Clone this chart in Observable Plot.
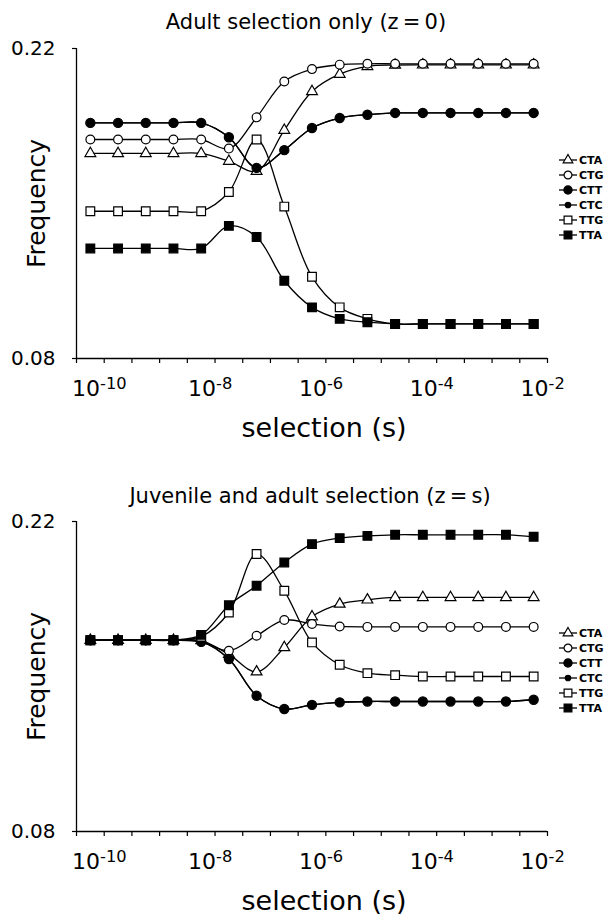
<!DOCTYPE html>
<html>
<head>
<meta charset="utf-8">
<script src="https://cdn.jsdelivr.net/npm/d3@7"></script>
<script src="https://cdn.jsdelivr.net/npm/@observablehq/plot@0.6"></script>
<style>
html,body{margin:0;padding:0;background:#fff;}
#wrap{position:relative;width:613px;height:917px;overflow:hidden;font-family:"DejaVu Sans",Verdana,sans-serif;}
#wrap > svg{position:absolute;left:0;}
</style>
</head>
<body>
<div id="wrap"></div>
<script>
// ---- data ----
const exponents = [-10,-9.5,-9,-8.5,-8,-7.5,-7,-6.5,-6,-5.5,-5,-4.5,-4,-3.5,-3,-2.5,-2];
const codons = ["CTA","CTG","CTT","CTC","TTG","TTA"];

const adultCTA = [0.1726,0.1726,0.1726,0.1726,0.1726,0.1691,0.1646,0.1831,0.2006,0.2084,0.2119,0.2125,0.2126,0.2126,0.2126,0.2126,0.2126];
const adultCTG = [0.1789,0.1789,0.1789,0.1789,0.1789,0.1748,0.1889,0.2051,0.2107,0.2127,0.2131,0.2131,0.2131,0.2131,0.2131,0.2131,0.2131];
const adultCTT = [0.1864,0.1864,0.1864,0.1864,0.1864,0.1799,0.1661,0.1741,0.1841,0.1886,0.1901,0.1909,0.1909,0.1909,0.1909,0.1909,0.1909];
const adultCTC = [0.1864,0.1864,0.1864,0.1864,0.1864,0.1799,0.1661,0.1741,0.1841,0.1886,0.1901,0.1909,0.1909,0.1909,0.1909,0.1909,0.1909];
const adultTTG = [0.1465,0.1465,0.1465,0.1465,0.1465,0.1552,0.1789,0.1486,0.1169,0.1031,0.0979,0.0956,0.0956,0.0956,0.0956,0.0956,0.0956];
const adultTTA = [0.1297,0.1297,0.1297,0.1297,0.1297,0.1399,0.1349,0.1151,0.1031,0.0979,0.0964,0.0956,0.0956,0.0956,0.0956,0.0956,0.0956];

const juvCTA = [0.1664,0.1664,0.1664,0.1664,0.1662,0.1600,0.1521,0.1631,0.1770,0.1827,0.1846,0.1857,0.1857,0.1857,0.1857,0.1857,0.1857];
const juvCTG = [0.1664,0.1664,0.1664,0.1664,0.1657,0.1616,0.1684,0.1755,0.1737,0.1726,0.1724,0.1724,0.1724,0.1724,0.1724,0.1724,0.1724];
const juvCTT = [0.1664,0.1664,0.1664,0.1664,0.1657,0.1579,0.1413,0.1353,0.1372,0.1383,0.1387,0.1387,0.1387,0.1387,0.1387,0.1387,0.1395];
const juvCTC = [0.1664,0.1664,0.1664,0.1664,0.1657,0.1579,0.1413,0.1353,0.1372,0.1383,0.1387,0.1387,0.1387,0.1387,0.1387,0.1387,0.1395];
const juvTTG = [0.1664,0.1664,0.1664,0.1664,0.1680,0.1789,0.2053,0.1887,0.1654,0.1553,0.1515,0.1506,0.1500,0.1500,0.1500,0.1500,0.1500];
const juvTTA = [0.1664,0.1664,0.1664,0.1664,0.1688,0.1822,0.1910,0.2015,0.2098,0.2125,0.2135,0.2140,0.2140,0.2140,0.2140,0.2140,0.2131];

const xTickExponents = [-10.25,-9.75,-9.25,-8.75,-8.25,-7.75,-7.25,-6.75,-6.25,-5.75,-5.25,-4.75,-4.25,-3.75,-3.25,-2.75,-2.25,-1.75];
const xLabelExponents = [-10,-8,-6,-4,-2];
const yTicks = [0.08, 0.22];
const titles = ["Adult selection only (z\u2009=\u20090)", "Juvenile and adult selection (z\u2009=\u2009s)"];
const xTitle = "selection (s)";
const yTitle = "Frequency";

// ---- styles ----
const markerStyle = {
  CTA: {symbol: "triangle", fill: "white", r: 4.0},
  CTG: {symbol: "circle", fill: "white", r: 4.4},
  CTT: {symbol: "circle", fill: "black", r: 4.6},
  CTC: {symbol: "circle", fill: "black", r: 3.1},
  TTG: {symbol: "square", fill: "white", r: 4.9},
  TTA: {symbol: "square", fill: "black", r: 4.9}
};
const symbolMap = {triangle: d3.symbolTriangle, circle: d3.symbolCircle, square: d3.symbolSquare};

const panels = [
  {values: {CTA: adultCTA, CTG: adultCTG, CTT: adultCTT, CTC: adultCTC, TTG: adultTTG, TTA: adultTTA},
   title: titles[0], top: 0, height: 460, marginTop: 48, marginBottom: 102, titleDy: -26, titleDx: -6, legendY: 160},
  {values: {CTA: juvCTA, CTG: juvCTG, CTT: juvCTT, CTC: juvCTC, TTG: juvTTG, TTA: juvTTA},
   title: titles[1], top: 460, height: 457, marginTop: 61, marginBottom: 86, titleDy: -25, titleDx: -2, legendY: 173}
];

const wrap = document.getElementById("wrap");
const font = "DejaVu Sans, Verdana, sans-serif";

for (const p of panels) {
  const marks = [
    Plot.ruleX([Math.pow(10, xTickExponents[0])], {stroke: "black", strokeWidth: 1.3}),
    Plot.ruleY([yTicks[0]], {stroke: "black", strokeWidth: 1.3}),
    Plot.axisY(yTicks, {tickSize: 4, tickPadding: 17, tickFormat: d3.format(".2f"), fontSize: 20, label: null, strokeWidth: 1.2}),
    Plot.axisX(xTickExponents.map(e => Math.pow(10, e)), {tickSize: 5, tickFormat: () => "", label: null, strokeWidth: 1.2}),
    Plot.axisX(xLabelExponents.map(e => Math.pow(10, e)), {tickSize: 0, tickPadding: 22, fontSize: 22, dx: 9,
      tickFormat: d => "10^" + Math.round(Math.log10(d)), label: null}),
    Plot.text([p.title], {frameAnchor: "top", lineAnchor: "middle", textAnchor: "middle", dy: p.titleDy, dx: p.titleDx, fontSize: 21}),
    Plot.text([yTitle], {frameAnchor: "left", lineAnchor: "middle", textAnchor: "middle", rotate: -90, dx: -40, fontSize: 25}),
    Plot.text([xTitle], {frameAnchor: "bottom", lineAnchor: "middle", textAnchor: "middle", dy: 70, dx: 12, fontSize: 27})
  ];
  for (const c of codons) {
    const rows = p.values[c].map((v, i) => ({codon: c, s: Math.pow(10, exponents[i]), v}));
    const st = markerStyle[c];
    marks.push(Plot.line(rows, {x: "s", y: "v", curve: "catmull-rom", stroke: "black", strokeWidth: 1.3}));
    marks.push(Plot.dot(rows, {x: "s", y: "v", symbol: st.symbol, r: st.r, fill: st.fill, stroke: "black", strokeWidth: 1.2}));
  }
  const svg = Plot.plot({
    width: 613,
    height: p.height,
    marginTop: p.marginTop,
    marginBottom: p.marginBottom,
    marginLeft: 76,
    marginRight: 66,
    x: {type: "log", domain: [Math.pow(10, xTickExponents[0]), Math.pow(10, xTickExponents[xTickExponents.length - 1])], label: null},
    y: {domain: [yTicks[0], yTicks[1]], label: null},
    style: {fontFamily: font, fontSize: "20px", color: "black", background: "white", overflow: "visible"},
    marks
  });
  svg.style.top = p.top + "px";
  wrap.appendChild(svg);

  // superscript exponents on x tick labels
  d3.select(svg).selectAll('g[aria-label="x-axis tick label"] text').each(function() {
    const t = this.textContent;
    if (!t.includes("^")) return;
    const [b, e] = t.split("^");
    const sel = d3.select(this);
    sel.text(null);
    sel.append("tspan").text(b);
    sel.append("tspan").attr("dy", "-0.42em").attr("font-size", "0.74em").text(e);
  });

  // legend
  const lg = d3.select(svg).append("g").attr("aria-label", "legend").attr("text-anchor", "start");
  codons.forEach((c, i) => {
    const y = p.legendY + i * 15;
    const st = markerStyle[c];
    lg.append("line").attr("x1", 559).attr("x2", 577).attr("y1", y).attr("y2", y)
      .attr("stroke", "black").attr("stroke-width", 1.3);
    lg.append("path").attr("transform", `translate(568,${y})`)
      .attr("d", d3.symbol(symbolMap[st.symbol], st.r * st.r * Math.PI * 0.8)())
      .attr("fill", st.fill).attr("stroke", "black").attr("stroke-width", 1.2);
    lg.append("text").attr("x", 579).attr("y", y).attr("dy", "0.35em").attr("text-anchor", "start")
      .attr("font-size", 11).attr("font-weight", "bold").attr("font-family", font).text(c);
  });
}
</script>
</body>
</html>
